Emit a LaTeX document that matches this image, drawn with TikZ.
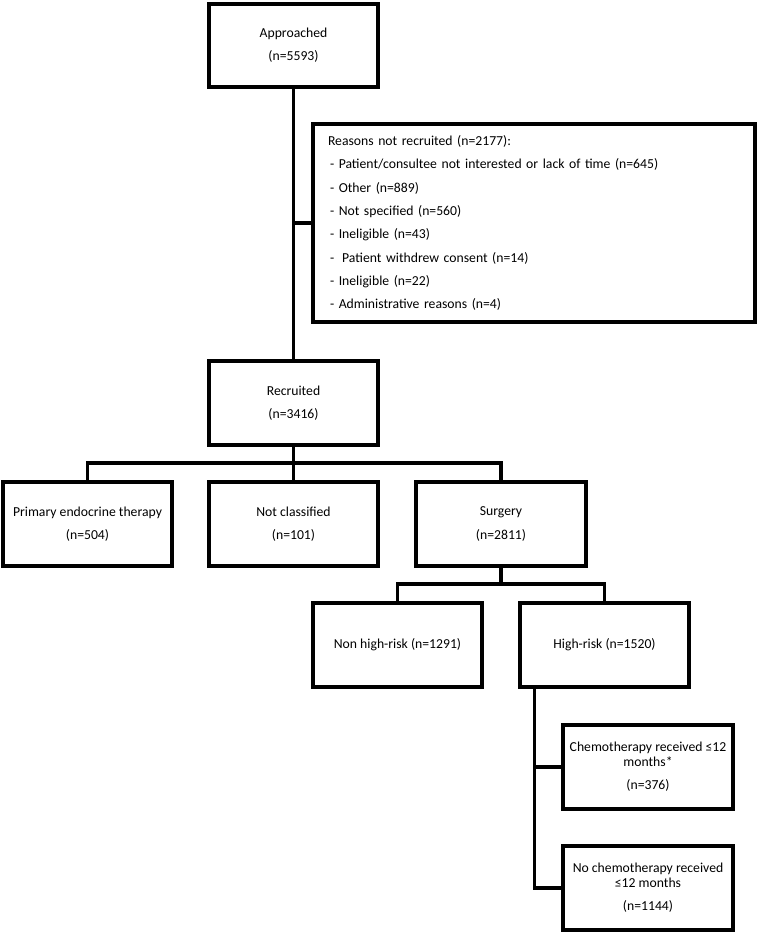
\documentclass[tikz,border=0pt]{standalone}
\usepackage{fontspec}
\setmainfont{Carlito}
\usetikzlibrary{calc}
\begin{document}
\begin{tikzpicture}[x=1pt,y=-1pt,
  box/.style={draw, line width=3.3pt, minimum width=169pt, minimum height=84pt,
    align=center, inner sep=2pt, font=\fontsize{13.7}{23.3}\selectfont},
  conn/.style={line width=3.3pt, line join=miter}]
\useasboundingbox (0,0) rectangle (758,933);
% boxes
\node[box, minimum height=83pt] (app) at (293.5,45.5) {Approached\\(n=5593)};
\node[box, minimum width=442pt, minimum height=198pt, text width=412pt,
  inner xsep=15pt, align=left] (reasons) at (534,223)
  {Reasons not recruited (n=2177):\\
   \hspace{2pt}- Patient/consultee not interested or lack of time (n=645)\\
   \hspace{2pt}- Other (n=889)\\
   \hspace{2pt}- Not specified (n=560)\\
   \hspace{2pt}- Ineligible (n=43)\\
   \hspace{2pt}-\hspace{8pt}Patient withdrew consent (n=14)\\
   \hspace{2pt}- Ineligible (n=22)\\
   \hspace{2pt}- Administrative reasons (n=4)};
\node[box] (rec) at (293.5,403) {Recruited\\(n=3416)};
\node[box] (pet) at (87.5,524) {Primary endocrine therapy\\(n=504)};
\node[box] (nc) at (293.5,524) {Not classified\\(n=101)};
\node[box, minimum width=170pt] (surg) at (501,524) {Surgery\\(n=2811)};
\node[box] (nhr) at (397.5,645) {Non high-risk (n=1291)};
\node[box] (hr) at (604.5,645) {High-risk (n=1520)};
\node[box, minimum width=170pt] (chemo) at (648,767) {Chemotherapy received ≤12\\[-8.3pt]months*\\(n=376)};
\node[box, minimum width=170pt] (nochemo) at (648,888) {No chemotherapy received\\[-8.3pt]≤12 months\\(n=1144)};
% helper coordinates
\coordinate (bar1) at (0,463);
\coordinate (bar2) at (0,584);
\coordinate (hrd) at ($(hr.south west)+(16,0)$);
% connectors
\draw[conn] (app.south) -- (rec.north);
\draw[conn] (reasons.west -| app.south) -- (reasons.west);
\draw[conn] (rec.south) -- (nc.north);
\draw[conn] (pet.north) -- (pet.north |- bar1) -- (surg.north |- bar1) -- (surg.north);
\draw[conn] (surg.south) -- (surg.south |- bar2);
\draw[conn] (nhr.north) -- (nhr.north |- bar2) -- (hr.north |- bar2) -- (hr.north);
\draw[conn] (hrd) -- (hrd |- nochemo.west) -- (nochemo.west);
\draw[conn] (hrd |- chemo.west) -- (chemo.west);
\end{tikzpicture}
\end{document}
